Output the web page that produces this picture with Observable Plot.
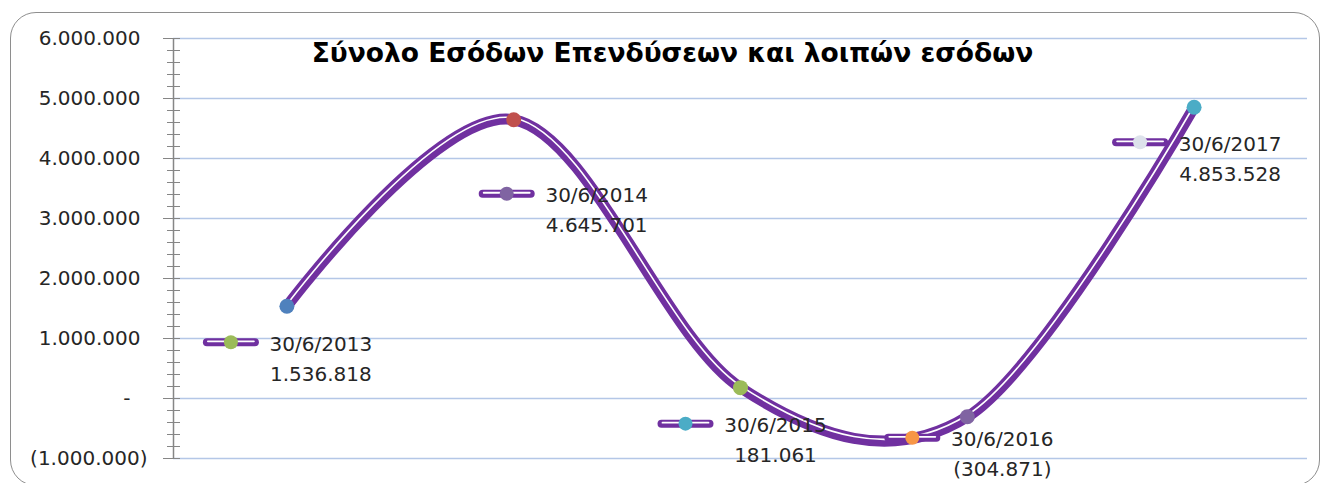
<!DOCTYPE html>
<html>
<head>
<meta charset="utf-8">
<script src="https://cdn.jsdelivr.net/npm/d3@7"></script>
<script src="https://cdn.jsdelivr.net/npm/@observablehq/plot@0.6"></script>
<style>
  html, body { margin: 0; padding: 0; background: #fff; }
  #wrap { position: relative; width: 1325px; height: 483px; overflow: hidden; }
  #border { position: absolute; left: 10px; top: 12px; width: 1310px; height: 474px;
            border: 1.5px solid #8e8e8e; border-radius: 26px; box-sizing: border-box; }
  #chart { position: absolute; left: 0; top: 0; }
</style>
</head>
<body>
<div id="wrap"><div id="border"></div><div id="chart"></div></div>
<script>
// ---- data ----
const title = "Σύνολο Εσόδων Επενδύσεων και λοιπών εσόδων";
const dates = ["30/6/2013", "30/6/2014", "30/6/2015", "30/6/2016", "30/6/2017"];
const values = [1536818, 4645701, 181061, -304871, 4853528];
const pointColors = ["#4F81BD", "#C0504D", "#9BBB59", "#8064A2", "#4BACC6"];
const keyColors = ["#9BBB59", "#8064A2", "#4BACC6", "#F79646", "#DDE2EB"];
const majorTicks = [-1000000, 0, 1000000, 2000000, 3000000, 4000000, 5000000, 6000000];
const minorTicks = d3.range(-1000000, 6000001, 200000).filter(v => v % 1000000 !== 0);

// ---- rendering ----
const dots = n => d3.format(",")(n).replace(/,/g, ".");
const fmt = v => v === 0 ? "-" : v < 0 ? "(" + dots(-v) + ")" : dots(v);

const data = dates.map((d, i) => ({i, date: d, value: values[i], pc: pointColors[i], kc: keyColors[i],
  label: d + "\n" + fmt(values[i])}));

// label key offsets relative to each point (pixels)
const nudge = [[-56, 36], [-7, 74], [-55, 36], [-55, 21], [-54, 35]];

const purple = "#7030A0";
const font = "DejaVu Sans";
const textColor = "#262626";
const keySym = {draw(ctx) { ctx.moveTo(-24, 0); ctx.lineTo(24, 0); }};
const keySymInner = {draw(ctx) { ctx.moveTo(-23, 0); ctx.lineTo(23, 0); }};

const labelMarks = [];
data.forEach((d, k) => {
  const [dx, dy] = nudge[k];
  const one = [d];
  labelMarks.push(
    Plot.dot(one, {x: "i", y: "value", symbol: keySym, r: 5, fill: "none", stroke: purple, strokeWidth: 8, strokeLinecap: "round", dx, dy}),
    Plot.dot(one, {x: "i", y: "value", symbol: keySymInner, r: 5, fill: "none", stroke: "white", strokeWidth: 1.8, strokeLinecap: "round", dx, dy: dy - 1}),
    Plot.dot(one, {x: "i", y: "value", r: 7, fill: "kc", dx, dy}),
    Plot.text(one, {x: "i", y: "value", text: "label", dx: dx + 90, dy: dy + 14, fontSize: 20, lineHeight: 1.5,
      textAnchor: "middle", lineAnchor: "middle", fill: textColor, fontFamily: font})
  );
});

const chart = Plot.plot({
  width: 1325,
  height: 483,
  marginLeft: 173,
  marginRight: 18,
  marginTop: 38,
  marginBottom: 25,
  style: {fontFamily: font, background: "transparent", overflow: "visible"},
  x: {domain: [-0.5, 4.5], axis: null},
  y: {domain: [-1000000, 6000000], axis: null},
  marks: [
    Plot.gridY(majorTicks, {stroke: "#B4C7E7", strokeOpacity: 1, strokeWidth: 1.5}),
    Plot.ruleX([-0.5], {stroke: "#868686", strokeWidth: 1.5}),
    Plot.axisY({ticks: minorTicks, tickSize: 13, dx: 7, tickFormat: () => "", label: null, stroke: "#868686"}),
    Plot.axisY({ticks: majorTicks, tickSize: 17, dx: 7, tickFormat: () => "", label: null, stroke: "#868686"}),
    Plot.axisY({ticks: majorTicks.filter(v => v > 0), tickSize: 0, tickPadding: 33, tickFormat: fmt, label: null, fontSize: 20, fill: textColor, fontFamily: font}),
    Plot.axisY({ticks: majorTicks.filter(v => v < 0), tickSize: 0, tickPadding: 26, tickFormat: fmt, label: null, fontSize: 20, fill: textColor, fontFamily: font}),
    Plot.axisY({ticks: majorTicks.filter(v => v === 0), tickSize: 0, tickPadding: 43, tickFormat: fmt, label: null, fontSize: 20, fill: textColor, fontFamily: font}),
    Plot.line(data, {x: "i", y: "value", curve: "cardinal", tension: 0, stroke: purple, strokeWidth: 11, strokeLinecap: "round", strokeLinejoin: "round"}),
    Plot.line(data, {x: "i", y: "value", curve: "cardinal", tension: 0, stroke: "white", strokeWidth: 1.6, dy: -1.8, strokeLinecap: "round"}),
    Plot.dot(data, {x: "i", y: "value", r: 7.5, fill: "pc"}),
    ...labelMarks,
    Plot.text([title], {frameAnchor: "top", text: d => d, dx: -68, dy: 15, lineAnchor: "middle", fontSize: 26.5, fontWeight: "bold", fill: "#000", fontFamily: font})
  ]
});
document.getElementById("chart").appendChild(chart);
</script>
</body>
</html>
